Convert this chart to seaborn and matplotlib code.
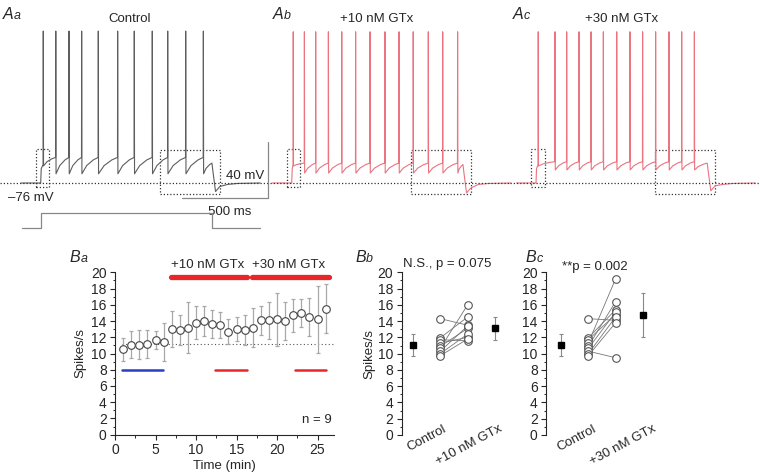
import numpy as np
import pandas as pd
import matplotlib
matplotlib.use("Agg")
import matplotlib.pyplot as plt
import seaborn as sns
from matplotlib.patches import Rectangle
from matplotlib.ticker import MultipleLocator
import matplotlib.transforms as mtransforms

# ---------------- data ----------------
# A: spike times (ms after current-step onset)
aa_spikes = [15, 88, 165, 239, 336, 449, 546, 651, 741, 846, 949]
ab_spikes = [9, 74, 140, 214, 292, 373, 457, 544, 626, 709, 797, 881, 968]
ac_spikes = [13, 111, 179, 251, 321, 393, 471, 548, 622, 698, 776, 850, 924]
rest_mv = -76
step_ms = 1000
peak_mv = [31, 30.5, 30.5]
trough_mv = [-69.5, -69, -66.8]
thresh_mv = [-58, -62, -61]
preoff_mv = [-62, -63, -62]
dip_mv = [-82, -83, -81.5]
box1_ms, box1_mv = [-30, 50], [-79, -52]
box2_ms, box2_mv = [695, 1045], [-83.5, -52.5]
scale_ms, scale_mv = 500, 40
titles_a = ["Control", "+10 nM GTx", "+30 nM GTx"]

# Ba: time course
time_min = list(range(1, 27))
rate_mean = [10.5, 11.1, 11.1, 11.2, 11.7, 11.4, 13.0, 12.9, 13.2, 13.8, 14.0, 13.6, 13.5,
             12.7, 13.0, 12.9, 13.2, 14.1, 14.1, 14.2, 14.0, 14.7, 15.0, 14.5, 14.2, 15.5]
rate_sem = [1.4, 1.7, 1.8, 1.7, 1.1, 2.3, 2.2, 1.9, 3.1, 2.0, 1.8, 1.7, 1.6,
            1.5, 1.5, 1.9, 2.4, 1.8, 2.3, 3.3, 2.3, 2.0, 1.7, 2.3, 4.1, 3.0]
baseline_rate = 11.2
drug_bars = [(6.9, 16.3, "+10 nM GTx"), (16.9, 26.4, "+30 nM GTx")]
win_ctrl = (0.85, 5.95)
win_g10 = (12.3, 16.3)
win_g30 = (22.2, 26.1)

# Bb / Bc: paired cells
ctrl_cells = [14.3, 11.95, 11.7, 11.3, 10.9, 10.65, 10.3, 10.0, 9.75]
g10_cells = [13.5, 14.5, 11.6, 12.0, 13.1, 16.0, 13.4, 12.4, 11.8]
g30_cells = [14.1, 15.4, 14.8, 19.2, 16.4, 15.1, 9.5, 14.5, 13.8]
ctrl_mean, ctrl_sem = 11.1, 1.35
g10_mean, g10_sem = 13.1, 1.4
g30_mean, g30_sem = 14.8, 2.7
cat_labels_b = ["Control", "+10 nM GTx"]
cat_labels_c = ["Control", "+30 nM GTx"]
stat_b = "N.S., p = 0.075"
stat_c = "**p = 0.002"

# ---------------- style ----------------
sns.set_theme(style="ticks")
plt.rcParams["font.family"] = ["Liberation Sans", "DejaVu Sans"]
plt.rcParams["axes.linewidth"] = 0.8

W, H = 760, 475
fig = plt.figure(figsize=(W / 100, H / 100), dpi=100)
fig.patch.set_facecolor("white")


def add_ax(x0, y0, x1, y1):
    return fig.add_axes([x0 / W, 1 - y1 / H, (x1 - x0) / W, (y1 - y0) / H])


def ftext(px, py, s, **kw):
    fig.text(px / W, 1 - py / H, s, **kw)


def panel_label(px, py, big, small):
    ftext(px, py, big, fontsize=11.5, style="italic", va="baseline", ha="left")
    ftext(px + 10.5, py, small, fontsize=9, style="italic", va="baseline", ha="left")


DOT = (0, (1, 1.6))


def build_trace(spikes, pk, tr, th, pre, dip):
    pts = [(-115, rest_mv), (0, rest_mv), (3, -66), (spikes[0] - 1, -63)]
    for i, s in enumerate(spikes):
        nxt = spikes[i + 1] if i + 1 < len(spikes) else step_ms
        v_end = th if i + 1 < len(spikes) else pre
        t_tr = tr if i > 0 else -64
        isi = nxt - s
        pts += [(s, pk), (s + 1.5, t_tr),
                (s + 0.3 * isi, t_tr + 0.5 * (v_end - t_tr)),
                (s + 0.7 * isi, t_tr + 0.85 * (v_end - t_tr)),
                (nxt - 1, v_end)]
    pts += [(step_ms + 4, pre - 5), (step_ms + 20, dip), (step_ms + 45, dip + 3.5),
            (step_ms + 90, rest_mv - 1), (step_ms + 150, rest_mv - 0.3), (1280, rest_mv)]
    return pd.DataFrame(pts, columns=["t", "v"])


# ---------------- A panels ----------------
ppx_ms = 0.1714
onsets_px = [40.7, 291.7, 536.0]
spans_px = [(0, 270), (270, 510), (510, 760)]
spike_sets = [aa_spikes, ab_spikes, ac_spikes]
colors_a = ["#5e5e5e", "#ea7480", "#ea7480"]
title_px = [130, 377, 622]
lab = [("A", "a", 3), ("A", "b", 273), ("A", "c", 513)]
ytop_px, ybot_px = 25, 240
vtop = rest_mv + (183 - ytop_px) / 1.42
vbot = rest_mv + (183 - ybot_px) / 1.42

for k in range(3):
    x0, x1 = spans_px[k]
    ax = add_ax(x0, ytop_px, x1, ybot_px)
    ax.set_xlim((x0 - onsets_px[k]) / ppx_ms, (x1 - onsets_px[k]) / ppx_ms)
    ax.set_ylim(vbot, vtop)
    ax.axis("off")
    df = build_trace(spike_sets[k], peak_mv[k], trough_mv[k], thresh_mv[k], preoff_mv[k], dip_mv[k])
    sns.lineplot(data=df, x="t", y="v", sort=False, estimator=None, ax=ax,
                 color=colors_a[k], lw=0.8, clip_on=False)
    ax.axhline(rest_mv, color="#333333", lw=0.9, ls=DOT)
    for bt, bv in [(box1_ms, box1_mv), (box2_ms, box2_mv)]:
        ax.add_patch(Rectangle((bt[0], bv[0]), bt[1] - bt[0], bv[1] - bv[0], fill=False,
                               ec="#333333", lw=0.9, ls=DOT))
    ftext(title_px[k], 21.5, titles_a[k], fontsize=9.5, ha="center", va="baseline")
    panel_label(lab[k][2], 19, lab[k][0], lab[k][1])
    if k == 0:
        xb = 1324
        yb = -86.9
        ax.plot([xb, xb], [yb, yb + scale_mv], color="#888888", lw=0.9, clip_on=False)
        ax.plot([xb - scale_ms, xb], [yb, yb], color="#888888", lw=0.9, clip_on=False)
        ax.text(xb - 20, yb + scale_mv / 2 - 4, f"{scale_mv} mV", fontsize=9.5,
                ha="right", va="center")
        ax.text(xb - scale_ms / 2 + 30, yb - 5, f"{scale_ms} ms", fontsize=9.5,
                ha="center", va="top")
        ax.text(-55, rest_mv - 6, f"\u2013{abs(rest_mv)} mV", fontsize=9.5,
                ha="center", va="top")
        axi = add_ax(x0, 205, x1, 235)
        axi.set_xlim(ax.get_xlim())
        axi.set_ylim(-0.507, 1.576)
        axi.axis("off")
        step_df = pd.DataFrame({"t": [-110, 0, 0, step_ms, step_ms, 1280],
                                "i": [0, 0, 1, 1, 0, 0]})
        sns.lineplot(data=step_df, x="t", y="i", sort=False, estimator=None, ax=axi,
                     color="#888888", lw=0.9)

# ---------------- Ba ----------------
axb = add_ax(115, 272.3, 115 + 27 * 8.1, 434.7)
axb.set_xlim(0, 27)
axb.set_ylim(0, 20)
axb.errorbar(time_min, rate_mean, yerr=rate_sem, fmt="none", ecolor="#a8a8a8",
             elinewidth=0.9, capsize=1.6, capthick=0.9, zorder=2)
axb.plot([win_ctrl[0], 27], [baseline_rate] * 2, color="#555555", lw=0.8, ls=(0, (1, 2.2)), zorder=1)
sns.scatterplot(x=time_min, y=rate_mean, ax=axb, marker="o", s=30, facecolor="white",
                edgecolor="#444444", linewidth=0.8, zorder=3)
for a0, a1, txt in drug_bars:
    axb.plot([a0, a1], [19.4, 19.4], color="#e8262a", lw=3.8, solid_capstyle="round", clip_on=False)
    axb.text((a0 + a1) / 2 - 0.2, 20.2, txt, fontsize=9.5, ha="center", va="bottom")
axb.plot(win_ctrl, [8, 8], color="#2a3cc8", lw=1.8)
axb.plot(win_g10, [8, 8], color="#e8262a", lw=1.8)
axb.plot(win_g30, [8, 8], color="#e8262a", lw=1.8)
axb.text(24.9, 1.8, "n = 9", fontsize=9.5, ha="center", va="center")
axb.xaxis.set_major_locator(MultipleLocator(5))
axb.xaxis.set_minor_locator(MultipleLocator(2.5))
axb.yaxis.set_major_locator(MultipleLocator(2))
axb.yaxis.set_minor_locator(MultipleLocator(1))
axb.set_xlabel("Time (min)", fontsize=9.5, labelpad=2)
axb.set_ylabel("Spikes/s", fontsize=9.5, labelpad=3)
sns.despine(ax=axb)
panel_label(70, 262, "B", "a")

# ---------------- Bb / Bc ----------------
def paired_panel(x_spine_px, x0_px, cells_a, cells_b, m_a, s_a, m_b, s_b, labels, lab_x,
                 stat, stat_px, ylabel):
    unit = 27.3
    xl = (x_spine_px - x0_px) / unit
    ax = add_ax(x_spine_px, 272.3, x0_px + 3.4 * unit, 435)
    ax.set_xlim(xl, 3.4)
    ax.set_ylim(0, 20)
    for a, b in zip(cells_a, cells_b):
        ax.plot([1, 2], [a, b], color="#777777", lw=0.6, zorder=1)
    pts = pd.DataFrame({"x": [1] * len(cells_a) + [2] * len(cells_b), "y": cells_a + cells_b})
    sns.scatterplot(data=pts, x="x", y="y", ax=ax, marker="o", s=30, facecolor="white",
                    edgecolor="#555555", linewidth=0.8, zorder=3, clip_on=False)
    ax.errorbar([0, 3], [m_a, m_b], yerr=[s_a, s_b], fmt="s", color="black", ms=4.2,
                ecolor="#888888", elinewidth=0.8, capsize=1.6, capthick=0.8, zorder=4)
    ax.yaxis.set_major_locator(MultipleLocator(2))
    ax.yaxis.set_minor_locator(MultipleLocator(1))
    ax.set_xticks([])
    ax.set_xlabel("")
    ax.set_ylabel(ylabel, fontsize=9.5, labelpad=2)
    sns.despine(ax=ax, bottom=True)
    trans = mtransforms.blended_transform_factory(ax.transData, ax.transAxes)
    for xx, txt in zip(lab_x, labels):
        ax.text(xx, 0.075, txt, rotation=28, ha="right", va="top", fontsize=9.5,
                transform=trans, rotation_mode="anchor")
    ftext(stat_px[0], stat_px[1], stat, fontsize=9.5, ha="left", va="baseline")
    return ax


axbb = paired_panel(401.7, 413, ctrl_cells, g10_cells, ctrl_mean, ctrl_sem, g10_mean, g10_sem,
                    cat_labels_b, (1.08, 3.12), stat_b, (403, 267), "Spikes/s")
panel_label(355, 262, "B", "b")
axbc = paired_panel(546, 561, ctrl_cells, g30_cells, ctrl_mean, ctrl_sem, g30_mean, g30_sem,
                    cat_labels_c, (1.17, 3.33), stat_c, (562, 270), "")
panel_label(526, 262, "B", "c")

for ax in [axb, axbb, axbc]:
    ax.tick_params(axis="both", which="major", labelsize=10, length=3.5, width=0.8, pad=2.5,
                   direction="out")
    ax.tick_params(axis="both", which="minor", length=1.8, width=0.7, direction="out")
    ax.set_facecolor("white")

fig.savefig("out.png", dpi=100, facecolor="white")
